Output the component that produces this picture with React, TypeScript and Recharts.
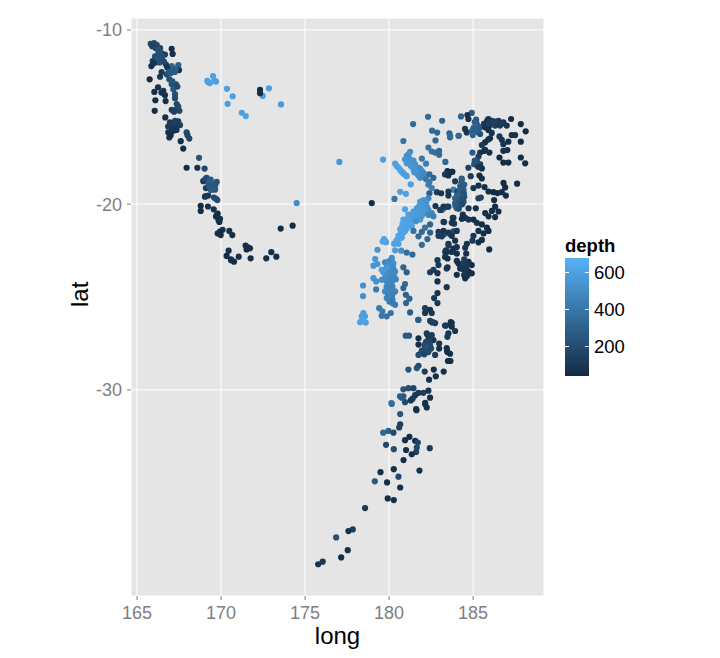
import React from 'react';
import { ScatterChart, Scatter, XAxis, YAxis, ZAxis, CartesianGrid } from 'recharts';

const longTicks = [165, 170, 175, 180, 185];
const latTicks = [-10, -20, -30];
const depthTicks = [600, 400, 200];
const depthMin = 40;
const depthMax = 680;

// [long, lat, depth]
const vanuatuNorth: number[][] = [
  [165.81,-10.81,180],[166.01,-10.77,190],[166.17,-10.87,170],[166.37,-11.06,150],[166.46,-11.35,220],[166.66,-11.44,130],
  [166.27,-11.35,230],[166.07,-11.54,200],[166.33,-11.63,240],[165.93,-11.82,120],[166.17,-11.88,210],[166.46,-11.73,190],
  [165.85,-12.11,60],[167.06,-11.1,60],[167.12,-11.4,60],[166.72,-12.02,120],[167.46,-12.05,300],[167.5,-12.34,70],
  [167.06,-12.11,310],[167.12,-12.34,300],[167,-12.53,290],[166.46,-12.46,110],[166.37,-12.73,100],[166.76,-12.59,180],
  [166.92,-12.88,210],[167.06,-13.17,230],[167.32,-13.17,200],[167.16,-13.45,260],[167.26,-13.74,220],[167.26,-13.97,190],
  [165.75,-12.88,50],[166.25,-13.34,70],[166.03,-13.61,60],[166.56,-13.55,90],[166.66,-13.8,80],[166.09,-14.09,50],
  [166.7,-14.14,60],[167.36,-14.31,190],[167.36,-14.6,200],[167.52,-14.7,170],[167.06,-14.64,120],[166.05,-14.7,50],
  [166.68,-15.08,60],[167.26,-15.27,150],[167.56,-15.52,140],[167.06,-15.66,90],[166.86,-15.94,70],[167.95,-15.94,180],
  [168.11,-16.29,160],[166.92,-16.23,80],[167.6,-16.44,60],[167.75,-16.86,50],[167.16,-15.85,100],[167.36,-15.56,120],[166.96,-15.37,100],
  [165.9,-10.95,150],[166.1,-11.05,160],[166.25,-11.15,210],[166.5,-11.55,200],[166.2,-11.7,230],[166.35,-11.9,220],[166.0,-11.95,90],
  [166.6,-11.85,170],[166.8,-12.2,90],[166.9,-12.45,250],[167.3,-12.25,280],[167.25,-12.45,270],[167.1,-13.0,240],[166.45,-13.65,80],
  [167.4,-13.3,190],[167.45,-14.45,180],[167.2,-14.75,130],[167.15,-15.4,130],[166.85,-15.6,110],[167.35,-15.8,90],[167.45,-15.3,130],[167.0,-16.1,60],[168.0,-16.1,170],
];
const fijiBasin: number[][] = [
  [169.18,-12.97,600],[169.34,-13.1,610],[169.52,-12.69,600],[169.7,-13.01,590],[170.35,-13.43,600],[170.69,-13.86,590],
  [170.39,-14.3,590],[171.23,-14.81,600],[171.47,-15,610],[172.85,-13.4,590],[172.48,-13.84,600],[173.57,-14.33,570],
  [172.32,-13.49,50],[172.32,-13.68,60],[174.5,-19.94,500],[177.04,-17.62,550],[169.25,-13.05,600],[169.6,-12.95,600],
];
const vanuatuSouth: number[][] = [
  [168.69,-17.39,240],[167.95,-17.95,50],[168.59,-17.95,80],[169.02,-18,170],[168.94,-18.71,100],[169.14,-18.52,200],
  [169.38,-18.62,260],[169.24,-18.81,260],[169.44,-19.1,280],[169.64,-19.19,230],[169.74,-18.75,220],[169.1,-19.1,120],
  [169.5,-18.91,290],[169.04,-19.58,90],[169.24,-19.52,110],[169.58,-19.63,190],[169.78,-19.77,200],[168.79,-20.09,50],
  [168.79,-20.38,50],[169.22,-20.13,70],[169.56,-20.29,70],[169.8,-20.53,60],[169.7,-20.69,60],[169.94,-20.82,80],[169.9,-20.99,60],
  [170.09,-21.43,70],[169.94,-21.53,50],[169.8,-21.63,60],[169.98,-21.72,50],[170.49,-21.49,70],[170.67,-21.72,60],
  [173.55,-21.36,50],[174.26,-21.2,50],[170.45,-22.58,60],[170.33,-22.87,50],[170.59,-23.06,50],[170.77,-23.18,50],[171.05,-22.91,60],
  [171.46,-22.3,60],[171.52,-22.51,50],[171.72,-22.45,60],[171.76,-23,60],[172.99,-22.66,50],[172.69,-23,50],[173.29,-22.91,50],
  [169.05,-18.6,190],[169.3,-18.7,280],[169.35,-18.9,290],[169.45,-18.85,270],[169.55,-19.05,300],[169.3,-19.0,250],[169.65,-18.95,240],
  [169.4,-19.2,260],[169.1,-19.55,100],[169.7,-19.7,190],[169.75,-20.6,60],[169.85,-20.9,70],[170.6,-23.1,60],[171.6,-22.4,60],
];
const tongaDeepNorth: number[][] = [
  [182.32,-15.04,330],[181.43,-15.46,340],[183.16,-15.27,310],[182.56,-15.84,340],[182.86,-15.95,320],[183.59,-15.99,300],
  [183.63,-16.22,290],[184.15,-16.13,280],[182.76,-16.4,330],[180.85,-16.43,380],[182.34,-16.8,380],[182.54,-17.03,370],
  [182.74,-17.09,360],[182.98,-16.99,340],[182.98,-17.22,330],[183.35,-17.62,320],[181.95,-17.43,400],[182.2,-17.72,440],
  [179.64,-17.49,590],[181.25,-17.05,510],[181.05,-17.28,530],[180.95,-17.47,540],[181.21,-17.43,540],[181.35,-17.66,530],
  [181.05,-17.7,550],[181.55,-17.76,520],[181.75,-17.95,520],[181.45,-18.04,540],[181.95,-18.14,500],[181.65,-18.27,530],
  [182.14,-18.33,490],[180.36,-17.72,600],[180.56,-17.95,600],[180.7,-18.14,610],[180.85,-18.27,600],[181.05,-18.43,590],
  [181.85,-18.52,520],[182.4,-18.33,350],[182.64,-18.52,320],[183.47,-18.14,60],[183.73,-18.18,60],[183.33,-18.33,110],[183.53,-18.39,70],
  [181.29,-18.89,600],[180.66,-19.31,610],[181,-19.42,600],[180.32,-19.71,400],[178.97,-19.94,50],[182.34,-18.91,450],
  [182.4,-19.39,280],[182.54,-19.1,430],[182.34,-19.67,480],
  [181.15,-17.2,520],[181.25,-17.6,540],[181.45,-17.55,530],[181.6,-17.95,530],[181.3,-17.85,540],[181.85,-18.0,510],[182.05,-18.25,490],
  [181.5,-18.2,540],[181.75,-18.4,520],[182.0,-18.45,480],[180.45,-17.85,600],[180.65,-18.05,610],[180.8,-18.2,600],[180.95,-18.35,590],[182.2,-18.6,400],[182.4,-18.75,420],
];
const tongaDeepBand: number[][] = [
  [182.04,-19.77,550],[181.85,-19.87,560],[182.14,-20.05,540],[181.95,-20.14,560],[181.65,-20.23,580],[182.34,-20.32,520],
  [182.14,-20.5,550],[181.85,-20.5,570],[181.45,-20.41,580],[180.95,-20.29,620],[181.15,-20.59,600],[181.55,-20.77,590],
  [181.85,-20.86,570],[181.25,-20.95,600],[180.85,-20.86,620],[180.95,-21.22,610],[181.35,-21.22,600],[180.66,-21.4,620],
  [180.85,-21.58,610],[180.56,-21.76,620],[180.76,-21.85,610],[180.46,-22.03,620],[180.3,-22.2,620],[180.56,-22.2,610],
  [182.54,-20.5,480],[182.64,-20.68,440],[179.7,-21.94,620],[179.62,-22.08,620],[179.82,-22.11,610],[179.31,-22.53,540],
  [180.36,-22.56,590],[180.72,-22.58,520],[181.05,-22.69,360],[181.39,-22.79,330],[180.16,-22.97,560],[181.45,-21.49,380],
  [181.95,-21.54,330],[181.75,-21.79,340],[181.95,-22.26,350],[182.28,-21.94,320],[182.44,-21.58,290],[182.44,-21.13,310],[182.14,-21.31,380],
  [182.2,-19.9,540],[182.0,-20.0,560],[181.8,-20.1,570],[182.25,-20.15,530],[182.05,-20.3,550],[181.75,-20.35,570],[181.6,-20.5,580],[181.35,-20.6,590],
  [181.95,-20.65,560],[181.7,-20.65,580],[181.45,-20.85,590],[181.1,-20.8,610],[181.05,-21.0,610],[181.2,-21.1,600],[180.8,-21.1,620],[180.75,-21.3,620],
  [181.05,-21.35,600],[180.95,-21.5,610],[180.7,-21.6,620],[180.65,-21.9,620],[180.5,-21.95,620],[180.4,-22.1,620],[181.6,-20.95,520],[182.35,-20.6,470],[179.75,-22.02,620],
];
const tongaDeepSouth: number[][] = [
  [179.17,-23.04,560],[179.31,-23.31,560],[179.07,-23.4,540],[179.76,-23.22,480],[180.16,-23.01,510],[180.26,-23.28,520],
  [179.96,-23.37,520],[179.56,-23.63,590],[179.76,-23.63,580],[180.06,-23.63,500],[180.36,-23.72,490],[179.86,-23.9,510],
  [180.16,-23.99,500],[179.07,-24.08,540],[179.23,-24.26,530],[179.56,-24.17,520],[179.86,-24.26,490],[180.16,-24.35,480],
  [180.4,-24.14,470],[180.06,-24.62,470],[179.76,-24.8,480],[180.06,-24.89,470],[180.36,-24.8,450],[179.86,-25.16,470],
  [180.16,-25.07,450],[180.02,-25.34,420],[180.36,-25.52,420],[178.45,-24.48,520],[178.45,-25.05,520],[179.23,-24.69,420],
  [178.47,-25.96,590],[178.37,-26.14,600],[178.57,-26.14,590],[178.28,-26.45,600],[178.61,-26.47,590],[178.43,-26.32,610],
  [179.41,-25.7,430],[179.6,-25.87,420],[179.56,-26.11,400],[179.86,-26.14,390],[180.1,-25.96,380],[180.85,-23.49,300],
  [181.05,-23.76,290],[180.95,-24.4,330],[180.85,-24.62,320],[181,-24.98,300],[181.21,-25.19,310],[181.01,-25.43,300],
  [181.25,-25.93,290],[181.73,-26.32,280],[181.75,-26.33,270],
  [180.0,-23.15,500],[180.1,-23.45,510],[179.85,-23.5,550],[180.25,-23.55,490],[179.65,-23.75,570],[179.95,-23.8,510],[180.2,-23.8,490],
  [180.0,-24.05,500],[179.75,-24.05,510],[180.3,-24.0,480],[179.95,-24.4,480],[180.05,-24.25,480],[179.85,-24.55,480],[180.2,-24.55,460],
  [179.95,-24.75,470],[180.2,-24.95,450],[179.95,-25.0,460],[180.0,-25.2,440],[180.2,-25.25,430],[179.95,-25.1,450],[180.15,-25.4,420],[180.25,-25.45,420],
];
const tongaShallowNorth: number[][] = [
  [184.28,-15.02,300],[184.92,-14.82,280],[184.66,-14.94,70],[184.72,-15.17,60],[185.18,-15.21,260],[185.22,-15.46,280],
  [185.06,-15.65,310],[185.42,-15.65,250],[184.52,-15.74,100],[184.62,-15.94,80],[184.92,-15.88,300],[184.98,-16.09,300],
  [185.32,-15.94,260],[185.42,-16.03,220],[184.13,-16.13,330],[183.63,-16.13,340],[185.71,-15.55,60],[185.91,-15.17,70],
  [186.11,-15.27,90],[186.31,-15.32,110],[186.51,-15.27,120],[186.8,-15.36,100],[187,-15.55,90],[187.26,-15.17,50],
  [185.81,-15.36,80],[186.01,-15.51,110],[186.31,-15.55,150],[186.6,-15.55,130],[187.84,-15.46,50],[188.13,-15.88,50],
  [185.71,-15.65,70],[185.91,-15.8,60],[186.11,-15.97,70],[186.01,-16.28,60],[185.71,-16.51,70],[185.52,-16.66,100],
  [185.71,-16.93,60],[185.97,-17.09,70],[186.57,-16.17,110],[186.71,-16.36,90],[186.8,-16.61,80],[187.1,-16.47,60],
  [187.3,-16.09,70],[187.5,-16.09,60],[187.84,-16.47,50],[186.8,-16.99,60],[187.04,-16.95,70],[186.57,-17.37,50],
  [186.8,-17.66,50],[187.1,-17.66,50],[187.84,-17.37,50],[188.1,-17.7,50],[184.96,-17.09,260],[185.42,-17.09,90],
  [185.32,-17.32,140],[185.22,-17.56,200],[185.06,-17.76,230],[185.42,-17.76,110],[185.52,-17.99,60],[184.72,-17.95,150],
  [184.86,-18.43,120],[185.38,-18.39,60],[185.52,-18.56,60],[183.77,-18.18,60],[184.32,-18.56,230],
  [185.85,-15.25,90],[186.0,-15.3,120],[186.2,-15.4,150],[186.4,-15.4,140],[186.7,-15.45,110],[185.65,-15.45,90],[186.5,-15.45,120],[185.95,-15.45,130],
  [185.1,-15.35,280],[185.2,-15.6,300],[185.0,-15.75,300],[185.3,-15.8,270],[185.15,-15.85,290],[185.9,-16.35,70],[185.65,-17.0,70],[185.2,-17.7,220],[185.1,-17.55,230],[185.3,-17.9,90],
];
const tongaShallowMiddle: number[][] = [
  [184.33,-18.62,300],[184.47,-18.9,280],[184.23,-19,300],[184.43,-19.19,270],[184.03,-19.29,430],[183.83,-19.19,420],
  [184.13,-19.58,290],[183.93,-19.96,260],[184.23,-20.05,230],[184.43,-19.86,210],[184.03,-20.23,230],[184.47,-19.58,200],
  [183.93,-19.67,300],[184.73,-20.23,90],[185.16,-20.23,70],[185.02,-19.1,80],[185.32,-18.96,60],[185.68,-19.04,60],
  [185.92,-19.29,50],[186.21,-19.33,50],[186.45,-19.38,50],[186.71,-19.33,50],[186.95,-19.52,50],[186.81,-18.81,50],
  [186.91,-19.06,50],[187.62,-18.85,50],[185.32,-19.67,130],[185.46,-19.63,150],[186.25,-19.77,50],[186.31,-20.14,50],
  [186.12,-20.38,60],[186.51,-20.41,50],[186.31,-20.72,50],[185.92,-20.68,50],[185.72,-20.5,60],[184.39,-20.59,70],
  [184.53,-20.77,80],[184.33,-20.82,60],[184.73,-20.86,90],[185.02,-20.86,70],[185.22,-21.04,80],[185.52,-21.13,60],
  [185.82,-21.31,60],[185.92,-21.49,50],[185.62,-21.63,60],[185.32,-21.49,70],[185.02,-21.76,90],[184.96,-22.03,120],
  [185.32,-22.12,60],[185.52,-21.99,50],[183.28,-21,250],[183.79,-20.77,110],[183.87,-21.09,120],[183.24,-20.23,160],
  [183.44,-20.14,240],[183.14,-20.32,310],[185.96,-22.51,50],[183.83,-21.52,180],[183.64,-21.67,220],[183.28,-21.67,260],
  [182.76,-20.11,90],[183.24,-20.14,100],[183.53,-20.14,120],[183.04,-20.32,110],[183.83,-20.77,90],[183.24,-20.99,100],
  [183.73,-21.04,90],[182.94,-21.54,120],[183.24,-21.49,90],[183.53,-21.58,100],[183.14,-21.79,110],[182.94,-21.76,130],
  [183.73,-21.76,80],[184.03,-21.49,100],[183.53,-22.2,80],[183.39,-22.56,70],[183.73,-22.65,70],[184.03,-22.38,80],[183.33,-22.92,90],
  [182.84,-19.33,130],[183.1,-19.39,90],[183.53,-19.29,100],[183.53,-19.52,90],[184.07,-19.29,150],[183.93,-18.72,110],
  [184.3,-18.8,280],[184.35,-19.05,270],[184.2,-19.25,290],[184.35,-19.35,260],[184.25,-19.5,280],[184.45,-19.4,230],[184.05,-19.5,300],
  [184.1,-19.75,290],[184.3,-19.7,250],[184.0,-19.85,290],[184.2,-19.9,240],[184.35,-20.0,190],[184.1,-20.1,240],[183.95,-20.1,270],[184.4,-19.7,210],[184.15,-20.25,210],
];
const tongaShallowSouth: number[][] = [
  [183.93,-22.03,80],[183.54,-22.29,110],[183.34,-22.65,100],[184.63,-22.2,70],[184.53,-22.42,80],[183.83,-22.47,70],
  [184.03,-22.74,60],[183.48,-23.01,70],[184.59,-22.74,60],[184.03,-23.14,70],[184.47,-23.06,130],[184.73,-23.19,60],
  [184.92,-23.37,50],[184.23,-23.55,60],[184.53,-23.46,120],[184.73,-23.73,60],[184.47,-23.91,80],[184.92,-23.82,50],
  [184.53,-24.09,60],[183.48,-23.49,60],[182.88,-23.1,110],[182.94,-23.37,100],[182.64,-23.63,130],[182.44,-23.76,120],
  [182.88,-23.81,90],[183.43,-23.55,80],[183.43,-22.65,80],[182.88,-24.26,60],[183.43,-24.57,90],[182.88,-24.89,80],
  [182.68,-25.16,100],[182.88,-25.43,100],[182.14,-25.7,120],[182.44,-25.79,70],[182.14,-25.96,90],[182.54,-25.96,90],
  [182.44,-26.38,120],[182.74,-26.5,130],[183.33,-26.63,70],[183.73,-26.5,70],[184.13,-23.28,60],[184.03,-23.9,60],
  [184.5,-23.2,120],[184.6,-23.35,100],[184.4,-23.6,100],[184.6,-23.55,90],[184.55,-23.8,90],[184.65,-23.95,70],[184.4,-23.3,110],[182.6,-26.45,140],
];
const kermadec: number[][] = [
  [182.54,-26.46,150],[183.39,-26.63,110],[183.67,-26.45,70],[183.73,-26.69,70],[183.93,-26.92,90],[183.53,-27.05,80],
  [183.47,-27.23,110],[180.99,-27.17,270],[181.19,-27.17,270],[182.24,-27.05,130],[182.54,-27.14,110],[181.75,-27.31,60],
  [181.75,-27.64,60],[182.34,-27.4,100],[182.64,-27.4,70],[182.44,-27.67,200],[182.14,-27.85,220],[182.04,-28.03,180],
  [181.75,-28.18,200],[182.34,-28.03,190],[182.74,-28.18,120],[182.98,-27.58,80],[182.98,-27.85,70],[183.43,-27.82,60],
  [183.47,-28.03,60],[183.63,-28.12,60],[183.57,-28.5,60],[181.75,-28.75,170],[181.65,-28.87,220],[181.15,-28.95,240],
  [182.12,-29.05,130],[182.66,-28.95,60],[183.25,-29.05,60],[182.78,-29.3,60],[182.38,-29.47,70],[180.16,-30.72,350],
  [180.65,-30.33,280],[180.85,-30.33,240],[180.85,-29.97,240],[181.15,-29.91,200],[181.45,-29.91,170],[180.95,-30.63,190],
  [181.29,-30.54,100],[181.55,-30.27,90],[181.75,-30.15,110],[182.04,-30.15,130],[182.34,-30.04,90],[182.44,-30.4,60],
  [182.14,-30.72,80],[182.24,-30.9,60],[181.61,-30.99,60],[180.14,-30.68,360],[182.15,-30.67,70],[181.63,-31.04,60],
  [180.66,-31.24,250],[180.66,-31.76,120],[180.6,-31.92,150],[179.65,-32.18,320],[179.96,-32.09,300],[180.26,-32.18,180],
  [179.82,-32.79,170],[180.28,-33.01,200],[180.95,-32.56,60],[181.21,-32.39,50],[181.55,-32.59,60],[181.71,-32.68,170],
  [181.65,-32.93,180],[181.61,-33.15,150],[181.35,-33.26,60],[181.01,-33.05,60],[182.42,-32.96,110],[180.86,-33.55,60],
  [180.28,-34,70],[179.49,-34.15,70],[180.56,-34.37,190],[181.81,-34.07,70],[179.15,-34.6,260],[179.88,-34.65,60],
  [180.66,-34.9,60],[179.92,-35.43,50],[180.28,-35.51,60],[178.57,-35.9,100],[177.84,-36.92,140],[177.58,-37,80],
  [176.85,-37.3,210],[177.54,-37.9,70],[177.15,-38.24,60],[176.05,-38.44,100],[175.78,-38.56,90],
  [182.3,-27.15,110],[182.45,-27.3,120],[182.2,-27.5,170],[182.4,-27.5,170],[182.1,-27.65,190],[182.3,-27.8,230],[181.95,-27.95,190],[182.2,-27.95,210],
  [182.5,-27.85,180],[181.9,-28.1,200],[182.1,-28.15,170],[183.45,-27.95,60],[183.5,-28.5,70],[183.65,-28.5,60],[180.75,-30.4,260],[181.4,-30.45,100],
];

const regions = [vanuatuNorth, fijiBasin, vanuatuSouth, tongaDeepNorth, tongaDeepBand, tongaDeepSouth, tongaShallowNorth, tongaShallowMiddle, tongaShallowSouth, kermadec];

const LOW = [19, 43, 67];
const HIGH = [86, 177, 247];
const depthColor = (d: number) => {
  const t = (d - depthMin) / (depthMax - depthMin);
  return `rgb(${LOW.map((c, i) => Math.round(c + (HIGH[i] - c) * t)).join(',')})`;
};

// coord_map style mercator projection on the latitude axis
const mercY = (lat: number) => (180 / Math.PI) * Math.log(Math.tan(Math.PI / 4 + (lat * Math.PI) / 360));

const quakes = regions.flat().map(([long, lat, depth]) => ({ long, y: mercY(lat), depth }));

const axisText = { fill: '#7f7f7f', fontSize: 18, fontFamily: 'Liberation Sans' };

const Dot = (p: any) => <circle cx={p.cx} cy={p.cy} r={3.1} fill={depthColor(p.payload.depth)} />;

const App: React.FC = () => {
  return (
    <div style={{ position: 'absolute', left: 0, top: 0, width: 720, height: 658, background: '#fff', fontFamily: 'Liberation Sans' }}>
      <ScatterChart width={720} height={658} margin={{ top: 18, right: 176, bottom: 22, left: 71 }}>
        <CartesianGrid stroke="#ffffff" strokeWidth={1} fill="#e5e5e5" />
        <XAxis
          type="number"
          dataKey="long"
          domain={[164.64, 189.22]}
          ticks={longTicks}
          allowDataOverflow
          tick={axisText}
          tickSize={4}
          tickMargin={6}
          tickLine={{ stroke: '#7f7f7f' }}
          axisLine={false}
          height={40}
          label={{ value: 'long', position: 'insideBottom', offset: -8, fill: '#000', fontSize: 24 }}
        />
        <YAxis
          type="number"
          dataKey="y"
          domain={[-43.74, -9.34]}
          ticks={latTicks.map(mercY)}
          allowDataOverflow
          tickFormatter={(v: number) => String(latTicks.find((l) => Math.abs(mercY(l) - v) < 0.01))}
          tick={axisText}
          tickSize={4}
          tickMargin={5}
          tickLine={{ stroke: '#7f7f7f' }}
          axisLine={false}
          width={60}
          label={{ value: 'lat', angle: -90, position: 'insideLeft', offset: 8, fill: '#000', fontSize: 24 }}
        />
        <ZAxis range={[30, 30]} />
        <Scatter data={quakes} shape={Dot} isAnimationActive={false} />
      </ScatterChart>

      <div style={{ position: 'absolute', left: 565, top: 235, fontSize: 18.5, fontWeight: 700, color: '#000' }}>depth</div>
      <div
        style={{
          position: 'absolute', left: 565, top: 258, width: 24, height: 118,
          background: 'linear-gradient(to top, #132B43, #56B1F7)',
        }}
      >
        {depthTicks.map((d) => {
          const top = 118 - ((d - depthMin) / (depthMax - depthMin)) * 118;
          return (
            <React.Fragment key={d}>
              <div style={{ position: 'absolute', left: 0, top: top - 0.5, width: 4, height: 1, background: '#fff' }} />
              <div style={{ position: 'absolute', right: 0, top: top - 0.5, width: 4, height: 1, background: '#fff' }} />
              <div style={{ position: 'absolute', left: 29, top: top - 10, fontSize: 18.5, lineHeight: '20px', color: '#000' }}>{d}</div>
            </React.Fragment>
          );
        })}
      </div>
    </div>
  );
};

export default App;
